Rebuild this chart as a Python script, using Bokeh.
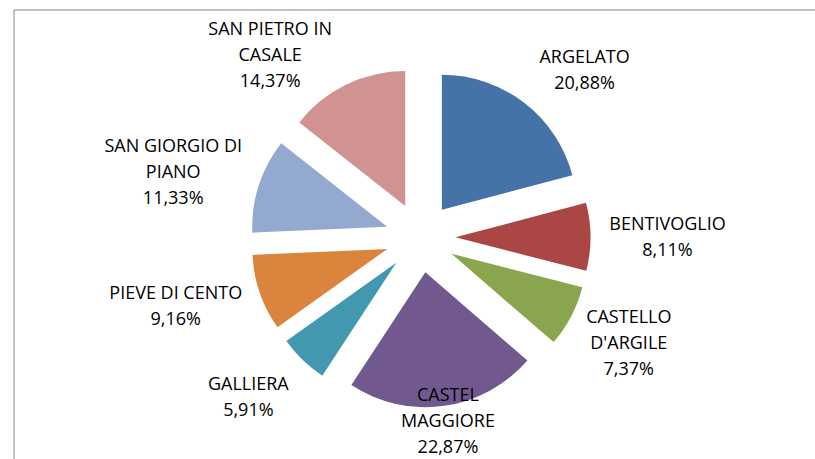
import math
from bokeh.plotting import figure
from bokeh.models import Range1d
from bokeh.embed import file_html
from bokeh.resources import INLINE
from bokeh.core.properties import value

# ---- data ----
names = ["ARGELATO", "BENTIVOGLIO", "CASTELLO D'ARGILE", "CASTEL MAGGIORE",
         "GALLIERA", "PIEVE DI CENTO", "SAN GIORGIO DI PIANO", "SAN PIETRO IN CASALE"]
label_lines = [["ARGELATO"], ["BENTIVOGLIO"], ["CASTELLO", "D'ARGILE"], ["CASTEL", "MAGGIORE"],
               ["GALLIERA"], ["PIEVE DI CENTO"], ["SAN GIORGIO DI", "PIANO"], ["SAN PIETRO IN", "CASALE"]]
shares = [20.88, 8.11, 7.37, 22.87, 5.91, 9.16, 11.33, 14.37]
colors = ["#4572A7", "#AA4643", "#89A54E", "#71588F", "#4198AF", "#DB843D", "#93A9CF", "#D19392"]

# ---- layout (pixels) ----
OX, OY = 0, 0              # page offset of the canvas
W, H = 815, 459
CX, CY = 420, 237          # pie centre in page pixels
R = 135                    # radius
EXPLODE = 35               # explosion distance
label_r = [235, 247, 233, 185, 234, 254, 256, 237]
label_tweak = [6.7, 0, -1, -0.6, 3.5, 3.5, -2.9, -13.5]
LINE = 26
FONT = "Open Sans"

p = figure(width=W, height=H, output_backend="svg", toolbar_location=None,
           x_range=Range1d(OX - CX, OX + W - CX), y_range=Range1d(CY - (OY + H), CY - OY),
           x_axis_location=None, y_axis_location=None, min_border=0,
           outline_line_color=None, background_fill_color="white", border_fill_color="white")
p.grid.visible = False

# chart-area frame: its right and bottom edges lie outside the visible window
p.quad(left=[13.5 - CX], right=[W + 40 - CX], top=[CY - 9.5], bottom=[CY - H - 40],
       fill_color=None, line_color="#8a8a8a", line_width=1)

total = sum(shares)
a0 = 0.0
xs, ys, sa, ea = [], [], [], []
lx, ly, lt = [], [], []
for i, s in enumerate(shares):
    a1 = a0 + s / total * 360.0
    m = (a0 + a1) / 2
    mr = math.radians(m)
    xs.append(EXPLODE * math.sin(mr))
    ys.append(EXPLODE * math.cos(mr))
    sa.append(math.radians(90 - a1))
    ea.append(math.radians(90 - a0))
    tr = math.radians(m + label_tweak[i])
    cxl = label_r[i] * math.sin(tr)
    cyl = label_r[i] * math.cos(tr)
    lines = label_lines[i] + [f"{s:.2f}".replace(".", ",") + "%"]
    n = len(lines)
    for k, t in enumerate(lines):
        lx.append(cxl)
        ly.append(cyl - (k - (n - 1) / 2) * LINE)
        lt.append(t)
    a0 = a1

p.wedge(x=xs, y=ys, radius=R, start_angle=sa, end_angle=ea,
        direction="anticlock", fill_color=colors, line_color=None)

p.text(x=lx, y=ly, text=lt, text_font=value(FONT), text_font_size="18px",
       text_align="center", text_baseline="middle", text_color="#000000")

open("out.html", "w").write(file_html(p, INLINE))
